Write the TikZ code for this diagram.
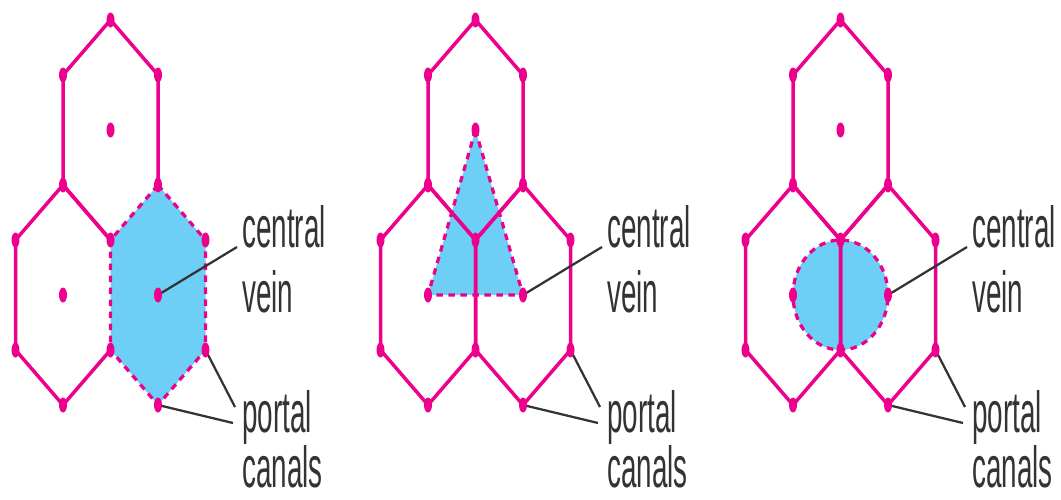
\documentclass[tikz,border=0pt]{standalone}
\usepackage{graphicx}
\usepackage{fontspec}
\setmainfont{Liberation Sans}
\usetikzlibrary{calc}
\definecolor{septum}{HTML}{EC008C}
\definecolor{lobfill}{HTML}{6DCFF6}
\definecolor{leader}{HTML}{333333}
% corners of one elongated hexagon: name, centre x, centre y
\newcommand{\hexat}[3]{%
  \coordinate (#1) at (#2,#3);
  \coordinate (#1-n) at (#2,#3-110);
  \coordinate (#1-ne) at (#2+47.5,#3-55);
  \coordinate (#1-se) at (#2+47.5,#3+55);
  \coordinate (#1-s) at (#2,#3+110);
  \coordinate (#1-sw) at (#2-47.5,#3+55);
  \coordinate (#1-nw) at (#2-47.5,#3-55);}
\newcommand{\hexpath}[1]{(#1-n) -- (#1-ne) -- (#1-se) -- (#1-s) -- (#1-sw) -- (#1-nw) -- cycle}
\newcommand{\narrow}[1]{\scalebox{0.48}[1]{#1}}

\begin{document}
\begin{tikzpicture}[x=0.02cm, y=-0.02cm,
  septa/.style={draw=septum, line width=0.07cm, line join=round, line cap=round},
  rim/.style={draw=septum, line width=0.065cm, dash pattern=on 0.13cm off 0.11cm},
  lobule/.style={fill=lobfill},
  canal/.style={fill=septum},
  lbl/.style={font=\fontsize{33}{37}\selectfont, text=leader, inner sep=0pt, text depth=0pt, anchor=base west},
  lead/.style={draw=leader, line width=0.045cm}
]
\useasboundingbox (0,0) rectangle (1061,500);
% three lobules in each panel
\foreach \p/\ox in {a/0, b/365, c/730}{
  \hexat{\p-t}{110.5+\ox}{130}
  \hexat{\p-l}{63+\ox}{295}
  \hexat{\p-r}{158+\ox}{295}
}
% panel 1: classic lobule
\fill[lobule] \hexpath{a-r};
\draw[septa] (a-t-s) -- (a-t-sw) -- (a-t-nw) -- (a-t-n) -- (a-t-ne) -- (a-t-se);
\draw[septa] (a-l-ne) -- (a-l-n) -- (a-l-nw) -- (a-l-sw) -- (a-l-s) -- (a-l-se);
\draw[rim] \hexpath{a-r};
% panel 2: portal lobule
\fill[lobule] (b-t) -- (b-l) -- (b-r) -- cycle;
\foreach \h in {t,l,r} \draw[septa] \hexpath{b-\h};
\draw[rim] (b-t) -- (b-l) -- (b-r) -- cycle;
% panel 3: acinus
\coordinate (c-m) at ($(c-l)!0.5!(c-r)$);
\fill[lobule] (c-m) ellipse [x radius=0.95cm, y radius=1.1cm];
\foreach \h in {t,l,r} \draw[septa] \hexpath{c-\h};
\draw[rim] (c-m) ellipse [x radius=0.95cm, y radius=1.1cm];
% labels, leaders and dots
\foreach \p/\ox in {a/0, b/365, c/730}{
  \node[lbl] (\p-cen) at (242+\ox,247) {\narrow{central}};
  \node[lbl] (\p-vein) at (242+\ox,312) {\narrow{vein}};
  \node[lbl] (\p-por) at (242+\ox,432) {\narrow{portal}};
  \node[lbl] (\p-can) at (242+\ox,487) {\narrow{canals}};
  \draw[lead] (\p-r) -- ($(\p-cen.base west)+(-5,0)$);
  \draw[lead] (\p-r-s) -- ($(\p-por.base west)+(-9,-9)$);
  \draw[lead] (\p-r-se) -- ($(\p-por.base west)+(-7,-25)$);
  \foreach \v in {t-n,t-ne,t-nw,t-se,t-sw,t-s,l-nw,l-sw,l-s,l-se,r-ne,r-se,r-s,t,l,r}
    \fill[canal] (\p-\v) ellipse [x radius=0.08cm, y radius=0.15cm];
}
\end{tikzpicture}
\end{document}
